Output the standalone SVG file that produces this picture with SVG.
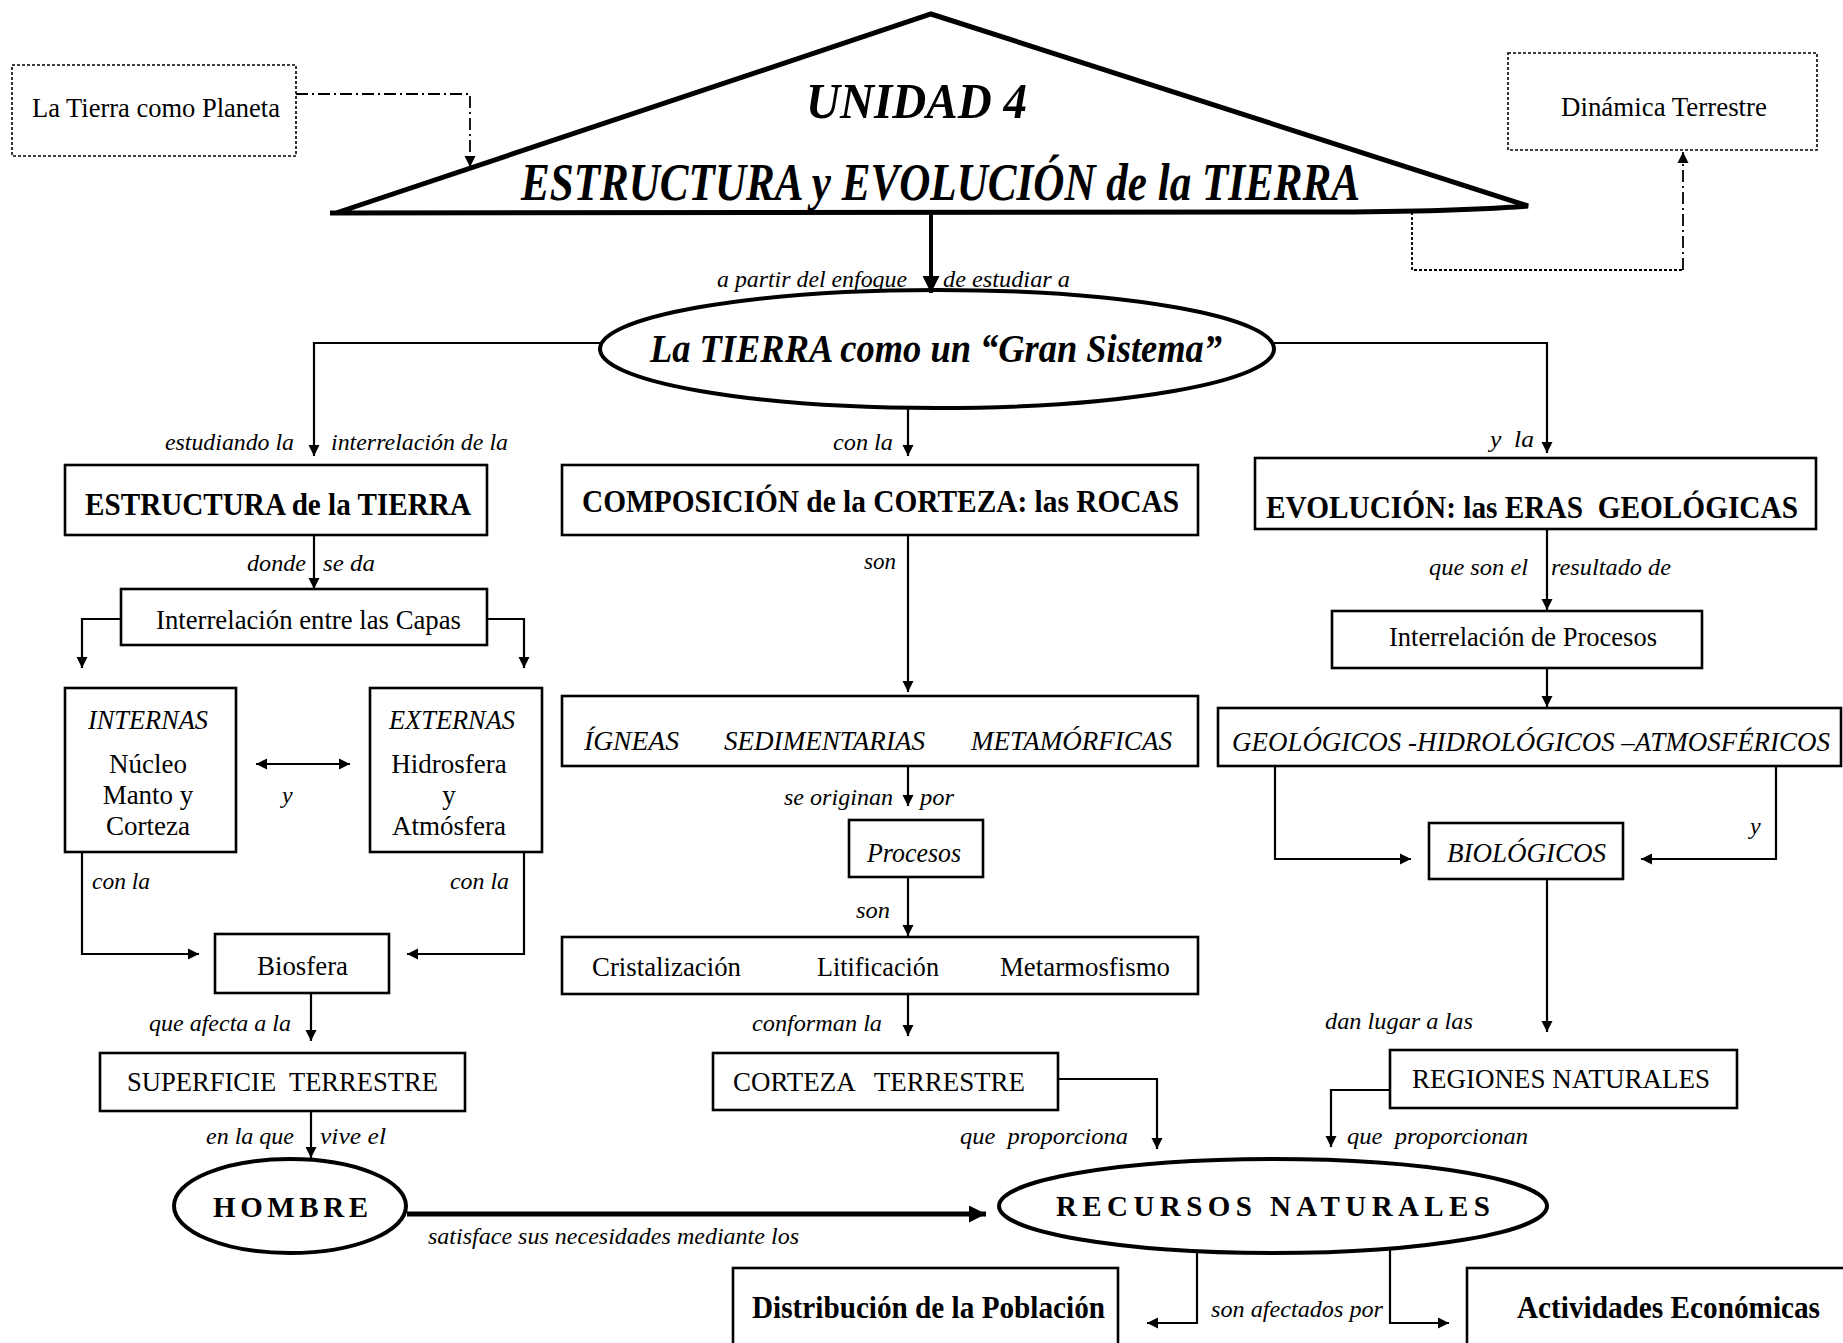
<svg xmlns="http://www.w3.org/2000/svg" width="1843" height="1343" viewBox="0 0 1843 1343" font-family="Liberation Serif, serif">
  <style>
    .bg { fill: #ffffff; }
    .box { fill: #ffffff; stroke: #000; stroke-width: 2.6; }
    .dot { fill: #ffffff; stroke: #000; stroke-width: 1.6; stroke-dasharray: 3 2; }
    .oval { fill: #ffffff; stroke: #000; stroke-width: 4; }
    .tri { fill: #ffffff; stroke: #000; stroke-width: 5; stroke-linejoin: miter; }
    .ln { fill: none; stroke: #000; stroke-width: 2.2; }
    .thick { fill: none; stroke: #000; stroke-width: 5; }
    .dashdot { fill: none; stroke: #000; stroke-width: 1.8; stroke-dasharray: 12 4 2 4; }
    .dotted { fill: none; stroke: #000; stroke-width: 1.8; stroke-dasharray: 3 2; }
    text { font-family: 'Liberation Serif', serif; fill: #000; }
    .pre { white-space: pre; }
    .lbl { font-style: italic; font-size: 24px; }
    .reg { font-size: 27px; }
    .it { font-style: italic; font-size: 27px; }
    .bt { font-weight: bold; font-size: 31px; }
    .title { font-weight: bold; font-style: italic; }
    .spaced { font-weight: bold; font-size: 29px; }
  </style>
  <defs>
    <marker id="ah" viewBox="0 0 10 10" refX="10" refY="5" markerWidth="11" markerHeight="13" markerUnits="userSpaceOnUse" orient="auto">
      <path d="M0,0 L10,5 L0,10 Z" fill="#000"/>
    </marker>
    <marker id="ahs" viewBox="0 0 10 10" refX="0" refY="5" markerWidth="11" markerHeight="13" markerUnits="userSpaceOnUse" orient="auto">
      <path d="M10,0 L0,5 L10,10 Z" fill="#000"/>
    </marker>
    <marker id="ahb" viewBox="0 0 10 10" refX="10" refY="5" markerWidth="17" markerHeight="17" markerUnits="userSpaceOnUse" orient="auto">
      <path d="M0,0 L10,5 L0,10 Z" fill="#000"/>
    </marker>
  </defs>

  <rect class="bg" x="0" y="0" width="1843" height="1343"/>

  <!-- title roof -->
  <g id="titulo">
    <path class="tri" d="M336,213 L931,14 L1528,206 Q1450,212 1300,212 L330,213"/>
    <text class="title" x="806" y="118" font-size="50" textLength="221" lengthAdjust="spacingAndGlyphs">UNIDAD 4</text>
    <text class="title" x="521" y="200" font-size="52" textLength="839" lengthAdjust="spacingAndGlyphs">ESTRUCTURA y EVOLUCIÓN de la TIERRA</text>
  </g>

  <g id="planeta">
    <rect class="dot" x="12" y="65" width="284" height="91"/>
    <text class="reg" x="32" y="117" textLength="248" lengthAdjust="spacingAndGlyphs">La Tierra como Planeta</text>
  </g>

  <g id="dinamica">
    <rect class="dot" x="1508" y="53" width="309" height="97"/>
    <text class="reg" x="1561" y="116" textLength="206" lengthAdjust="spacingAndGlyphs">Dinámica Terrestre</text>
  </g>

  <g id="gran-sistema">
    <ellipse class="oval" cx="937" cy="349" rx="337" ry="59"/>
    <text class="title" x="650" y="362" font-size="40" textLength="572" lengthAdjust="spacingAndGlyphs">La TIERRA como un “Gran Sistema”</text>
  </g>

  <g id="estructura">
    <rect class="box" x="65" y="465" width="422" height="70"/>
    <text class="bt" x="85" y="515" textLength="386" lengthAdjust="spacingAndGlyphs">ESTRUCTURA de la TIERRA</text>
  </g>

  <g id="composicion">
    <rect class="box" x="562" y="465" width="636" height="70"/>
    <text class="bt" x="582" y="512" textLength="597" lengthAdjust="spacingAndGlyphs">COMPOSICIÓN de la CORTEZA: las ROCAS</text>
  </g>

  <g id="evolucion">
    <rect class="box" x="1255" y="458" width="561" height="71"/>
    <text class="bt pre" x="1266" y="518" textLength="532" lengthAdjust="spacingAndGlyphs" xml:space="preserve">EVOLUCIÓN: las ERAS  GEOLÓGICAS</text>
  </g>

  <g id="capas">
    <rect class="box" x="121" y="589" width="366" height="56"/>
    <text class="reg" x="156" y="629" textLength="305" lengthAdjust="spacingAndGlyphs">Interrelación entre las Capas</text>
  </g>

  <g id="internas">
    <rect class="box" x="65" y="688" width="171" height="164"/>
    <text class="it" x="88" y="729" textLength="120" lengthAdjust="spacingAndGlyphs">INTERNAS</text>
    <text class="reg" x="148" y="773" text-anchor="middle">Núcleo</text>
    <text class="reg" x="148" y="804" text-anchor="middle">Manto y</text>
    <text class="reg" x="148" y="835" text-anchor="middle">Corteza</text>
  </g>

  <g id="externas">
    <rect class="box" x="370" y="688" width="172" height="164"/>
    <text class="it" x="389" y="729" textLength="126" lengthAdjust="spacingAndGlyphs">EXTERNAS</text>
    <text class="reg" x="449" y="773" text-anchor="middle">Hidrosfera</text>
    <text class="reg" x="449" y="804" text-anchor="middle">y</text>
    <text class="reg" x="449" y="835" text-anchor="middle">Atmósfera</text>
  </g>

  <g id="biosfera">
    <rect class="box" x="215" y="934" width="174" height="59"/>
    <text class="reg" x="257" y="975" textLength="91" lengthAdjust="spacingAndGlyphs">Biosfera</text>
  </g>

  <g id="superficie">
    <rect class="box" x="100" y="1053" width="365" height="58"/>
    <text class="reg pre" x="127" y="1091" textLength="311" lengthAdjust="spacingAndGlyphs" xml:space="preserve">SUPERFICIE  TERRESTRE</text>
  </g>

  <g id="hombre">
    <ellipse class="oval" cx="290" cy="1206" rx="116" ry="47"/>
    <text class="spaced" x="213" y="1217" textLength="155" lengthAdjust="spacing">HOMBRE</text>
  </g>

  <g id="rocas">
    <rect class="box" x="562" y="696" width="636" height="70"/>
    <text class="it" x="584" y="750" textLength="95" lengthAdjust="spacingAndGlyphs">ÍGNEAS</text>
    <text class="it" x="724" y="750" textLength="201" lengthAdjust="spacingAndGlyphs">SEDIMENTARIAS</text>
    <text class="it" x="971" y="750" textLength="201" lengthAdjust="spacingAndGlyphs">METAMÓRFICAS</text>
  </g>

  <g id="procesos">
    <rect class="box" x="849" y="820" width="134" height="57"/>
    <text class="it" x="867" y="862" textLength="94" lengthAdjust="spacingAndGlyphs">Procesos</text>
  </g>

  <g id="tipos-procesos">
    <rect class="box" x="562" y="937" width="636" height="57"/>
    <text class="reg" x="592" y="976" textLength="149" lengthAdjust="spacingAndGlyphs">Cristalización</text>
    <text class="reg" x="817" y="976" textLength="122" lengthAdjust="spacingAndGlyphs">Litificación</text>
    <text class="reg" x="1000" y="976" textLength="170" lengthAdjust="spacingAndGlyphs">Metarmosfismo</text>
  </g>

  <g id="corteza">
    <rect class="box" x="713" y="1053" width="345" height="57"/>
    <text class="reg pre" x="733" y="1091" textLength="292" lengthAdjust="spacingAndGlyphs" xml:space="preserve">CORTEZA   TERRESTRE</text>
  </g>

  <g id="recursos">
    <ellipse class="oval" cx="1273" cy="1206" rx="274" ry="47"/>
    <text class="spaced" x="1056" y="1216" textLength="434" lengthAdjust="spacing">RECURSOS NATURALES</text>
  </g>

  <g id="interrelacion-procesos">
    <rect class="box" x="1332" y="611" width="370" height="57"/>
    <text class="reg" x="1389" y="646" textLength="268" lengthAdjust="spacingAndGlyphs">Interrelación de Procesos</text>
  </g>

  <g id="geologicos">
    <rect class="box" x="1218" y="708" width="623" height="58"/>
    <text class="it" x="1232" y="751" textLength="598" lengthAdjust="spacingAndGlyphs">GEOLÓGICOS -HIDROLÓGICOS –ATMOSFÉRICOS</text>
  </g>

  <g id="biologicos">
    <rect class="box" x="1429" y="823" width="194" height="56"/>
    <text class="it" x="1447" y="862" textLength="159" lengthAdjust="spacingAndGlyphs">BIOLÓGICOS</text>
  </g>

  <g id="regiones">
    <rect class="box" x="1390" y="1050" width="347" height="58"/>
    <text class="reg" x="1412" y="1088" textLength="298" lengthAdjust="spacingAndGlyphs">REGIONES NATURALES</text>
  </g>

  <g id="poblacion">
    <rect class="box" x="733" y="1268" width="385" height="90"/>
    <text class="bt" x="752" y="1318" textLength="353" lengthAdjust="spacingAndGlyphs">Distribución de la Población</text>
  </g>

  <g id="actividades">
    <rect class="box" x="1467" y="1268" width="390" height="90"/>
    <text class="bt" x="1517" y="1318" textLength="303" lengthAdjust="spacingAndGlyphs">Actividades Económicas</text>
  </g>

  <!-- connectors -->
  <g id="connectors">
    <path class="dashdot" d="M296,94 H470 V167" marker-end="url(#ah)"/>
    <path class="dotted" d="M1412,212 V270 H1683"/>
    <path class="dashdot" d="M1683,270 V152" marker-end="url(#ah)"/>

    <path class="thick" d="M931,213 V293" marker-end="url(#ahb)" style="stroke-width:4"/>

    <path class="ln" d="M600,343 H314 V456" marker-end="url(#ah)"/>
    <path class="ln" d="M908,408 V456" marker-end="url(#ah)"/>
    <path class="ln" d="M1274,343 H1547 V453" marker-end="url(#ah)"/>

    <path class="ln" d="M314,535 V589" marker-end="url(#ah)"/>
    <path class="ln" d="M121,619 H82 V668" marker-end="url(#ah)"/>
    <path class="ln" d="M487,619 H524 V668" marker-end="url(#ah)"/>
    <path class="ln" d="M256,764 H350" marker-start="url(#ahs)" marker-end="url(#ah)"/>
    <path class="ln" d="M82,852 V954 H199" marker-end="url(#ah)"/>
    <path class="ln" d="M524,852 V954 H407" marker-end="url(#ah)"/>
    <path class="ln" d="M311,993 V1041" marker-end="url(#ah)"/>
    <path class="ln" d="M311,1111 V1158" marker-end="url(#ah)"/>
    <path class="thick" d="M407,1214 H986" marker-end="url(#ahb)"/>

    <path class="ln" d="M908,535 V692" marker-end="url(#ah)"/>
    <path class="ln" d="M908,766 V806" marker-end="url(#ah)"/>
    <path class="ln" d="M908,877 V936" marker-end="url(#ah)"/>
    <path class="ln" d="M908,994 V1036" marker-end="url(#ah)"/>
    <path class="ln" d="M1058,1079 H1157 V1149" marker-end="url(#ah)"/>

    <path class="ln" d="M1547,529 V610" marker-end="url(#ah)"/>
    <path class="ln" d="M1547,668 V707" marker-end="url(#ah)"/>
    <path class="ln" d="M1275,766 V859 H1411" marker-end="url(#ah)"/>
    <path class="ln" d="M1776,766 V859 H1641" marker-end="url(#ah)"/>
    <path class="ln" d="M1547,879 V1032" marker-end="url(#ah)"/>
    <path class="ln" d="M1390,1090 H1331 V1147" marker-end="url(#ah)"/>

    <path class="ln" d="M1197,1250 V1323 H1147" marker-end="url(#ah)"/>
    <path class="ln" d="M1390,1250 V1323 H1449" marker-end="url(#ah)"/>
  </g>

  <!-- connector labels -->
  <g id="labels">
    <text class="lbl" x="717" y="287" textLength="190" lengthAdjust="spacingAndGlyphs">a partir del enfoque</text>
    <text class="lbl" x="943" y="287" textLength="127" lengthAdjust="spacingAndGlyphs">de estudiar a</text>
    <text class="lbl" x="165" y="450" textLength="129" lengthAdjust="spacingAndGlyphs">estudiando la</text>
    <text class="lbl" x="331" y="450" textLength="177" lengthAdjust="spacingAndGlyphs">interrelación de la</text>
    <text class="lbl" x="833" y="450" textLength="60" lengthAdjust="spacingAndGlyphs">con la</text>
    <text class="lbl pre" x="1490" y="447" textLength="44" lengthAdjust="spacingAndGlyphs" xml:space="preserve">y  la</text>
    <text class="lbl" x="247" y="571" textLength="59" lengthAdjust="spacingAndGlyphs">donde</text>
    <text class="lbl" x="323" y="571" textLength="52" lengthAdjust="spacingAndGlyphs">se da</text>
    <text class="lbl" x="864" y="569" textLength="32" lengthAdjust="spacingAndGlyphs">son</text>
    <text class="lbl" x="1429" y="575" textLength="99" lengthAdjust="spacingAndGlyphs">que son el</text>
    <text class="lbl" x="1551" y="575" textLength="120" lengthAdjust="spacingAndGlyphs">resultado de</text>
    <text class="lbl" x="282" y="803">y</text>
    <text class="lbl" x="1750" y="834">y</text>
    <text class="lbl" x="784" y="805" textLength="109" lengthAdjust="spacingAndGlyphs">se originan</text>
    <text class="lbl" x="920" y="805" textLength="34" lengthAdjust="spacingAndGlyphs">por</text>
    <text class="lbl" x="92" y="889" textLength="58" lengthAdjust="spacingAndGlyphs">con la</text>
    <text class="lbl" x="450" y="889" textLength="59" lengthAdjust="spacingAndGlyphs">con la</text>
    <text class="lbl" x="856" y="918" textLength="34" lengthAdjust="spacingAndGlyphs">son</text>
    <text class="lbl" x="149" y="1031" textLength="142" lengthAdjust="spacingAndGlyphs">que afecta a la</text>
    <text class="lbl" x="752" y="1031" textLength="130" lengthAdjust="spacingAndGlyphs">conforman la</text>
    <text class="lbl" x="1325" y="1029" textLength="148" lengthAdjust="spacingAndGlyphs">dan lugar a las</text>
    <text class="lbl" x="206" y="1144" textLength="88" lengthAdjust="spacingAndGlyphs">en la que</text>
    <text class="lbl" x="320" y="1144" textLength="66" lengthAdjust="spacingAndGlyphs">vive el</text>
    <text class="lbl pre" x="960" y="1144" textLength="168" lengthAdjust="spacingAndGlyphs" xml:space="preserve">que  proporciona</text>
    <text class="lbl pre" x="1347" y="1144" textLength="181" lengthAdjust="spacingAndGlyphs" xml:space="preserve">que  proporcionan</text>
    <text class="lbl" x="428" y="1244" textLength="371" lengthAdjust="spacingAndGlyphs">satisface sus necesidades mediante los</text>
    <text class="lbl" x="1211" y="1317" textLength="172" lengthAdjust="spacingAndGlyphs">son afectados por</text>
  </g>
</svg>
